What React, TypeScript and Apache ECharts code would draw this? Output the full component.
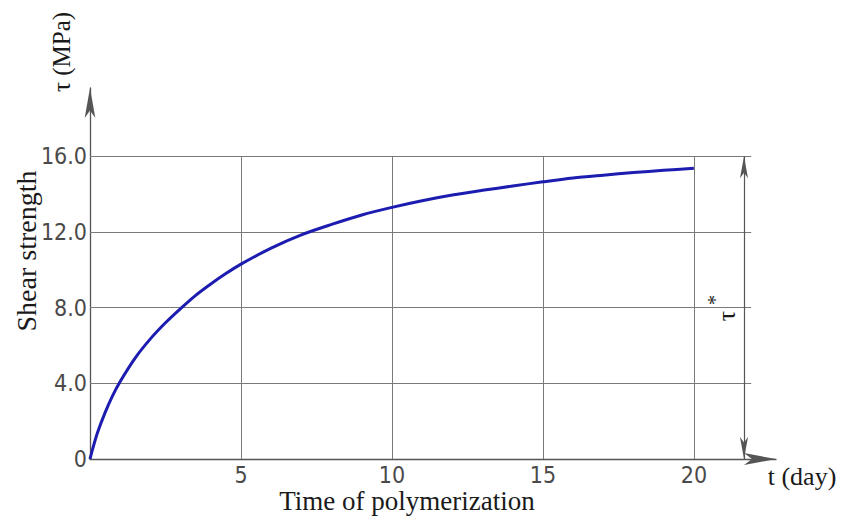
import React, { useEffect, useRef } from "react";
import * as echarts from "echarts";

// Time of polymerization (day)
const tDays = [0, 0.1, 0.25, 0.5, 0.75, 1, 1.5, 2, 2.5, 3, 3.5, 4, 4.5, 5, 6, 7, 8, 9, 10, 11, 12, 13, 14, 15, 16, 17, 18, 19, 20];
// Shear strength τ (MPa)
const shear = [0, 0.6, 1.4, 2.45, 3.35, 4.1, 5.35, 6.35, 7.2, 7.95, 8.65, 9.25, 9.8, 10.3, 11.15, 11.85, 12.4, 12.9, 13.3, 13.65, 13.95, 14.2, 14.43, 14.65, 14.85, 15.0, 15.14, 15.26, 15.37];

const xGridValues = [5, 10, 15, 20];
const yGridValues = [4, 8, 12, 16];
const yTickLabels = ["0", "4.0", "8.0", "12.0", "16.0"];
const xTickLabels = ["5", "10", "15", "20"];

const X_MAX = 22.72;
const Y_MAX = 19.61;
const GRID_LINE_END = 21.9; // horizontal lines extend past last gridline
const DIM_X = 21.66; // position of τ* dimension line
const TAU_STAR = 16;

const labelFont = '"DejaVu Sans Condensed", "Liberation Sans Narrow", sans-serif';
const serif = '"Liberation Serif", "Times New Roman", serif';

export default function App() {
  const ref = useRef<HTMLDivElement>(null);
  useEffect(() => {
    document.body.style.margin = "0";
    if (!ref.current) return;
    const chart = echarts.init(ref.current, null, { renderer: "svg" });
    const gridLineStyle = { color: "#7a7a7a", width: 1, type: "solid" as const };
    const gridData: any[] = [];
    yGridValues.forEach((v) => {
      gridData.push([{ coord: [0, v] }, { coord: [GRID_LINE_END, v] }]);
    });
    xGridValues.forEach((v) => {
      gridData.push([{ coord: [v, 0] }, { coord: [v, TAU_STAR] }]);
    });
    chart.setOption({
      animation: false,
      backgroundColor: "#ffffff",
      grid: { left: 90, right: 66, top: 88, bottom: 65, containLabel: false },
      xAxis: {
        type: "value",
        min: 0,
        max: X_MAX,
        interval: 5,
        splitLine: { show: false },
        axisTick: { show: false },
        axisLine: {
          show: true,
          lineStyle: { color: "#555", width: 1.3 },
          symbol: ["none", "arrow"],
          symbolSize: [9, 32],
        },
        axisLabel: {
          showMinLabel: false,
          showMaxLabel: false,
          margin: 4,
          fontFamily: labelFont,
          fontSize: 23,
          color: "#4a4a4a",
          formatter: (v: number) => {
            const i = xGridValues.indexOf(v);
            return i >= 0 ? xTickLabels[i] : "";
          },
        },
      },
      yAxis: {
        type: "value",
        min: 0,
        max: Y_MAX,
        interval: 4,
        splitLine: { show: false },
        axisTick: { show: false },
        axisLine: {
          show: true,
          lineStyle: { color: "#555", width: 1.3 },
          symbol: ["none", "arrow"],
          symbolSize: [8, 30],
        },
        axisLabel: {
          showMaxLabel: false,
          margin: 3,
          fontFamily: labelFont,
          fontSize: 23,
          color: "#4a4a4a",
          formatter: (v: number) => {
            const i = [0, ...yGridValues].indexOf(v);
            return i >= 0 ? yTickLabels[i] : "";
          },
        },
      },
      series: [
        {
          name: "grid",
          type: "line",
          data: [],
          z: 1,
          silent: true,
          markLine: {
            silent: true,
            symbol: "none",
            label: { show: false },
            lineStyle: gridLineStyle,
            z: 1,
            data: gridData,
          },
        },
        {
          name: "dimension",
          type: "line",
          data: [],
          z: 1,
          silent: true,
          markLine: {
            silent: true,
            symbol: ["arrow", "arrow"],
            symbolSize: [6, 22],
            label: { show: false },
            lineStyle: { color: "#555", width: 1.2, type: "solid" },
            data: [[{ coord: [DIM_X, 0] }, { coord: [DIM_X, TAU_STAR] }]],
          },
        },
        {
          name: "Shear strength",
          type: "line",
          z: 10,
          data: tDays.map((t, i) => [t, shear[i]]),
          smooth: 0.3,
          showSymbol: false,
          lineStyle: { color: "#1c1cb0", width: 3 },
        },
      ],
      graphic: [
        {
          type: "text",
          x: 802,
          y: 476,
          style: {
            text: "t (day)",
            font: `26px ${serif}`,
            fill: "#1a1a1a",
            align: "center",
            verticalAlign: "middle",
          },
        },
        {
          type: "text",
          x: 407,
          y: 501,
          style: {
            text: "Time of polymerization",
            font: `27px ${serif}`,
            fill: "#1a1a1a",
            align: "center",
            verticalAlign: "middle",
          },
        },
        {
          type: "text",
          x: 26,
          y: 251,
          rotation: Math.PI / 2,
          style: {
            text: "Shear strength",
            font: `28px ${serif}`,
            fill: "#1a1a1a",
            align: "center",
            verticalAlign: "middle",
          },
        },
        {
          type: "text",
          x: 61,
          y: 52,
          rotation: Math.PI / 2,
          style: {
            text: "τ (MPa)",
            font: `25px ${serif}`,
            fill: "#1a1a1a",
            align: "center",
            verticalAlign: "middle",
          },
        },
        {
          type: "text",
          x: 726,
          y: 316,
          rotation: Math.PI / 2,
          style: {
            text: "τ",
            font: `26px ${serif}`,
            fill: "#1a1a1a",
            align: "center",
            verticalAlign: "middle",
          },
        },
        {
          type: "text",
          x: 715,
          y: 300,
          rotation: Math.PI / 2,
          style: {
            text: "*",
            font: `20px ${serif}`,
            fill: "#1a1a1a",
            align: "center",
            verticalAlign: "middle",
          },
        },
      ],
    });
    return () => chart.dispose();
  }, []);
  return <div ref={ref} style={{ width: 842, height: 524 }} />;
}
